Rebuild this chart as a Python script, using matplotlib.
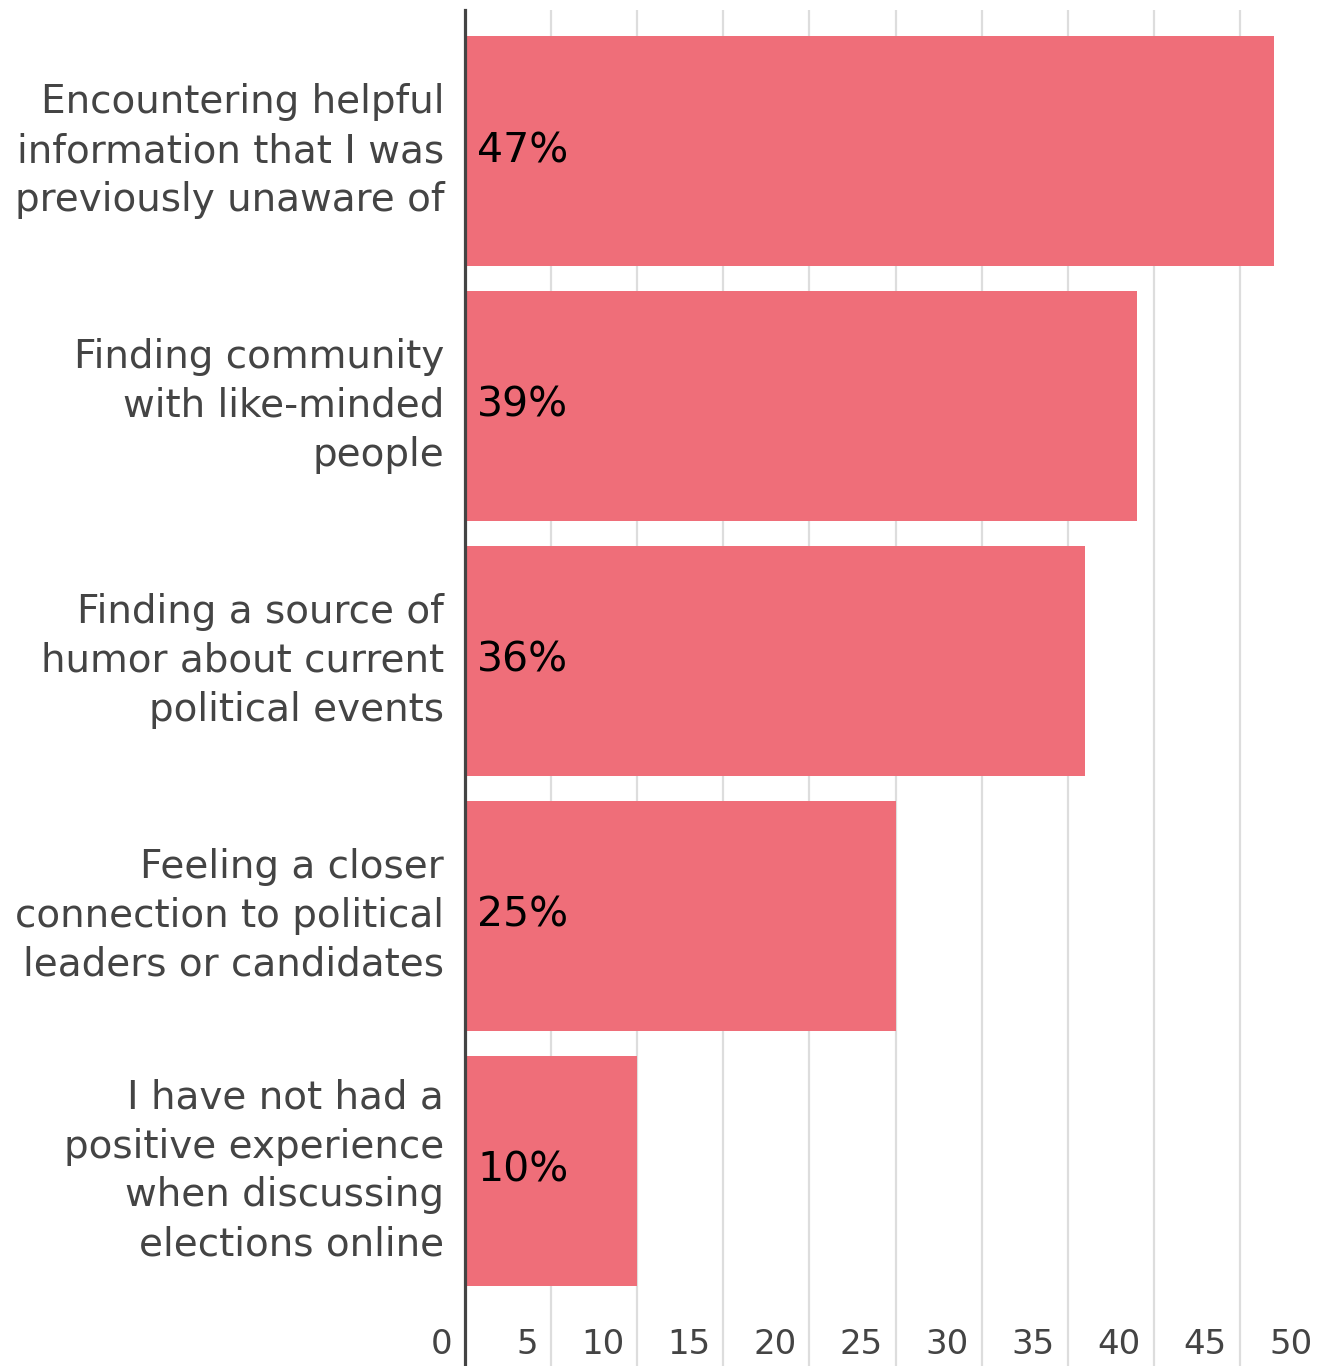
import numpy as np
import matplotlib.pyplot as plt
from matplotlib.transforms import blended_transform_factory, offset_copy

categories = [
    "Encountering helpful\ninformation that I was\npreviously unaware of",
    "Finding community\nwith like-minded\npeople",
    "Finding a source of\nhumor about current\npolitical events",
    "Feeling a closer\nconnection to political\nleaders or candidates",
    "I have not had a\npositive experience\nwhen discussing\nelections online",
]
values = [47, 39, 36, 25, 10]
x_ticks = [0, 5, 10, 15, 20, 25, 30, 35, 40, 45, 50]

BAR_COLOR = "#ef6e79"
TEXT_GRAY = "#444444"
FONT = "DejaVu Sans"

fig = plt.figure(figsize=(13.19, 13.66), dpi=100)
ax = fig.add_axes([465 / 1319, 0.0, (1326 - 465) / 1319, 1 - 10 / 1366])

y = np.arange(len(categories))
ax.barh(y, values, height=0.9, color=BAR_COLOR, zorder=2)

ax.set_xlim(0, 50)
ax.set_ylim(4.765, -0.553)

# vertical gridlines
ax.set_xticks(x_ticks)
ax.xaxis.grid(True, color="#dddddd", linewidth=1.6, zorder=0)
ax.tick_params(axis="x", length=0, labelbottom=False)
ax.set_axisbelow(True)

for side in ["top", "right", "bottom"]:
    ax.spines[side].set_visible(False)
ax.spines["left"].set_color(TEXT_GRAY)
ax.spines["left"].set_linewidth(2.3)
ax.spines["left"].set_zorder(3)

# category labels
ax.set_yticks(y)
ax.set_yticklabels(categories, fontsize=28, color=TEXT_GRAY, family=FONT,
                   linespacing=1.36, ha="right", va="center")
ax.tick_params(axis="y", length=0, pad=15)

# x tick labels sit inside the plot, just left of each gridline
trans = blended_transform_factory(ax.transData, ax.transAxes)
trans = offset_copy(trans, fig=fig, x=-13, y=-2, units="dots")
for t in x_ticks:
    ax.text(t, 23 / 1356, str(t), transform=trans, ha="right", va="center",
            fontsize=24.5, color=TEXT_GRAY, family=FONT)

# value labels inside bars
vtrans = offset_copy(ax.transData, fig=fig, x=12, y=0, units="dots")
for yi, v in zip(y, values):
    ax.text(0, yi, f"{v}%", transform=vtrans, ha="left", va="center",
            fontsize=29.5, color="black", family=FONT, zorder=4)

fig.savefig("out.png", dpi=100)
